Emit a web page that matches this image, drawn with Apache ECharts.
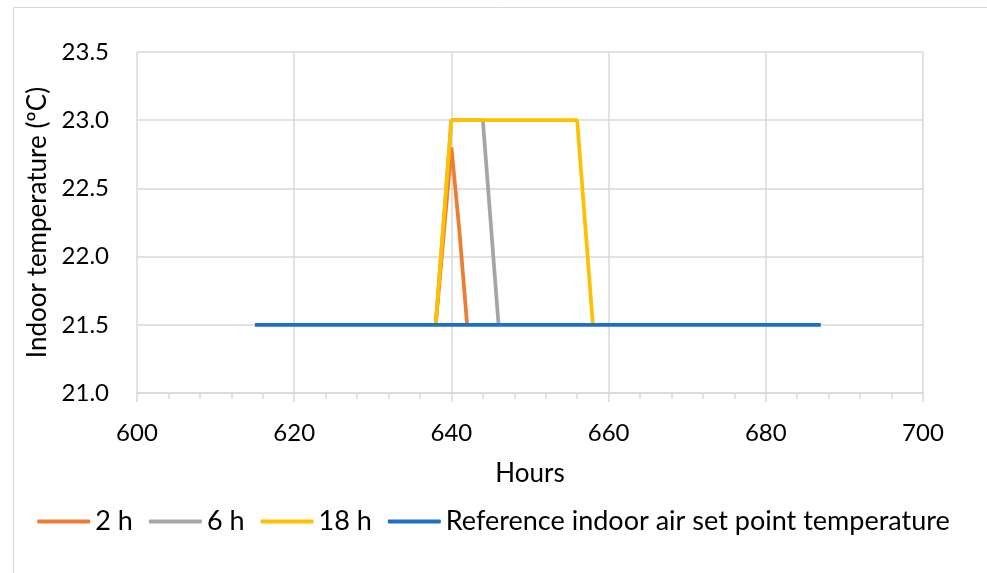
<!DOCTYPE html>
<html>
<head>
<meta charset="utf-8">
<script src="https://cdn.jsdelivr.net/npm/echarts@6/dist/echarts.min.js"></script>
<style>
  html, body { margin: 0; padding: 0; background: #fff; }
  #chart { width: 987px; height: 573px; }
</style>
</head>
<body>
<div id="chart"></div>
<script>
// Indoor temperature response for different durations (hours vs °C)
const seriesNames = ['2 h', '6 h', '18 h', 'Reference indoor air set point temperature'];
const seriesColors = ['#ED7D31', '#A5A5A5', '#FFC000', '#1F6FC4'];

const hours2h = [638, 640, 641, 642];
const temp2h  = [21.5, 22.8, 22.2, 21.5];

const hours6h = [638, 640, 642, 644, 646];
const temp6h  = [21.5, 23.0, 23.0, 23.0, 21.5];

const hours18h = [638, 640, 644, 648, 652, 656, 658];
const temp18h  = [21.5, 23.0, 23.0, 23.0, 23.0, 23.0, 21.5];

const hoursRef = [615, 627, 639, 651, 663, 675, 687];
const tempRef  = [21.5, 21.5, 21.5, 21.5, 21.5, 21.5, 21.5];

const pairs = (xs, ys) => xs.map((x, i) => [x, ys[i]]);
const seriesData = [
  pairs(hours2h, temp2h),
  pairs(hours6h, temp6h),
  pairs(hours18h, temp18h),
  pairs(hoursRef, tempRef)
];

const FONT = 'Lato';
const GRID = '#D9D9D9';
const chart = echarts.init(document.getElementById('chart'), null, { renderer: 'canvas' });

chart.setOption({
  animation: false,
  backgroundColor: '#fff',
  textStyle: { fontFamily: FONT },
  graphic: [{
    type: 'rect',
    shape: { x: 13.5, y: 7.5, width: 1000, height: 600 },
    style: { fill: 'none', stroke: GRID, lineWidth: 1 },
    silent: true
  }],
  grid: { left: 137, right: 64, top: 52, bottom: 180, containLabel: false },
  legend: {
    data: seriesNames,
    top: 503,
    left: 'center',
    itemWidth: 53,
    itemHeight: 4,
    itemGap: 16,
    icon: 'roundRect',
    textStyle: { fontFamily: FONT, fontSize: 27, color: '#000' }
  },
  xAxis: {
    type: 'value',
    min: 600, max: 700, interval: 20,
    name: 'Hours',
    nameLocation: 'middle',
    nameGap: 68,
    nameTextStyle: { fontFamily: FONT, fontSize: 26, color: '#000' },
    axisLine: { show: true, onZero: false, lineStyle: { color: GRID, width: 1.5 } },
    axisTick: { show: true, length: 9, lineStyle: { color: GRID, width: 1.5 } },
    minorTick: { show: true, splitNumber: 5, length: 6, lineStyle: { color: GRID, width: 1.5 } },
    splitLine: { show: true, lineStyle: { color: GRID, width: 1.5 } },
    axisLabel: { fontFamily: FONT, fontSize: 24, color: '#000', margin: 28 }
  },
  yAxis: {
    type: 'value',
    min: 21.0, max: 23.5, interval: 0.5,
    name: 'Indoor temperature (ºC)',
    nameLocation: 'middle',
    nameGap: 85,
    nameTextStyle: { fontFamily: FONT, fontSize: 26, color: '#000' },
    axisLine: { show: false },
    axisTick: { show: false },
    splitLine: { show: true, lineStyle: { color: GRID, width: 1.5 } },
    axisLabel: { fontFamily: FONT, fontSize: 24, color: '#000', margin: 28,
                 formatter: v => v.toFixed(1) }
  },
  series: seriesData.map((data, i) => ({
    name: seriesNames[i],
    type: 'line',
    data: data,
    symbol: 'none',
    z: i === 3 ? 5 : (i === 1 ? 2 : 3),
    color: seriesColors[i],
    lineStyle: { color: seriesColors[i], width: 3.75 },
    itemStyle: { color: seriesColors[i] }
  }))
});
</script>
</body>
</html>
